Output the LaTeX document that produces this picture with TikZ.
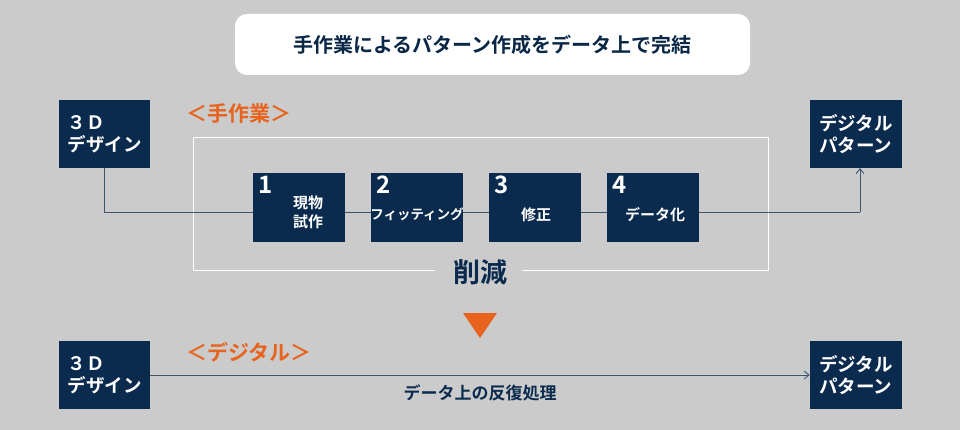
\documentclass[tikz,border=0pt]{standalone}
\usepackage{fontspec}
\setmainfont{Noto Sans CJK JP}[BoldFont={* Bold}]
\usetikzlibrary{arrows.meta}
\definecolor{navy}{HTML}{0B2B4E}
\definecolor{bg}{HTML}{CBCBCB}
\definecolor{org}{HTML}{E8641E}
\definecolor{ln}{HTML}{3E5570}
\tikzset{
 nb/.style={fill=navy,draw=none,text=white,font=\bfseries\fontsize{18.5}{22}\selectfont,align=left,inner sep=0},
 st/.style={fill=navy,draw=none,inner sep=0},
 num/.style={text=white,font=\bfseries\fontsize{24}{24}\selectfont,anchor=north west,inner sep=0},
 lab/.style={text=white,font=\bfseries\fontsize{15}{19}\selectfont,align=center,inner sep=0},
 conn/.style={draw=ln,line width=0.9pt},
}
\begin{document}
\begin{tikzpicture}[x=1pt,y=-1pt]
\fill[bg] (0,0) rectangle (960,430);
\useasboundingbox (0,0) rectangle (960,430);
\node[fill=white,rounded corners=12pt,minimum width=515pt,minimum height=61pt,font=\bfseries\fontsize{20}{22}\selectfont,text=navy!90!black] (title) at (492.5,44.5) {手作業によるパターン作成をデータ上で完結};
% top row
\node[nb,minimum width=91pt,minimum height=68pt] (l1) at (104.5,134) {３Ｄ\\デザイン};
\node[nb,minimum width=92pt,minimum height=68pt] (r1) at (856,134) {デジタル\\パターン};
\node[text=org,font=\bfseries\fontsize{21}{23}\selectfont,anchor=west,inner sep=0] (h1) at (186,114) {＜手作業＞};
\draw[white,line width=0.9pt] (435,270) -- (193,270) -- (193,137) -- (768,137) -- (768,270) -- (522,270);
\node[text=navy,font=\bfseries\fontsize{27}{28}\selectfont] (cut) at (480,272) {削減};
\coordinate (c1) at (104.5,212);
\coordinate (c2) at (860,212);
\draw[conn] (l1.south) -- (c1) -- (c2);
\draw[conn,-{Straight Barb[length=5pt,width=8pt]}] (c2) -- (860,168);
\foreach \x/\n in {299/1,417/2,535/3,653/4}{
 \node[st,minimum width=92pt,minimum height=69pt] (s\n) at (\x,207.5) {};
 \node[num] (n\n) at ([xshift=5pt,yshift=-3pt]s\n.north west) {\n};
}
\node[lab] at (308,212) {現物\\試作};
\node[lab,font=\bfseries\fontsize{13.5}{15}\selectfont] at (417,214) {フィッティング};
\node[lab] at (536,215) {修正};
\node[lab] at (655,215) {データ化};
% triangle
\fill[org] (463,313) -- (497,313) -- (480,338) -- cycle;
% bottom row
\node[nb,minimum width=91pt,minimum height=68pt] (l2) at (104.5,375) {３Ｄ\\デザイン};
\node[nb,minimum width=92pt,minimum height=68pt] (r2) at (856,375) {デジタル\\パターン};
\node[text=org,font=\bfseries\fontsize{21}{23}\selectfont,anchor=west,inner sep=0] (h2) at (186,352) {＜デジタル＞};
\draw[conn,-{Straight Barb[length=5pt,width=8pt]}] (l2.east) -- (r2.west);
\node[text=navy,font=\bfseries\fontsize{17}{19}\selectfont] (bl) at (480,393) {データ上の反復処理};
\end{tikzpicture}
\end{document}
